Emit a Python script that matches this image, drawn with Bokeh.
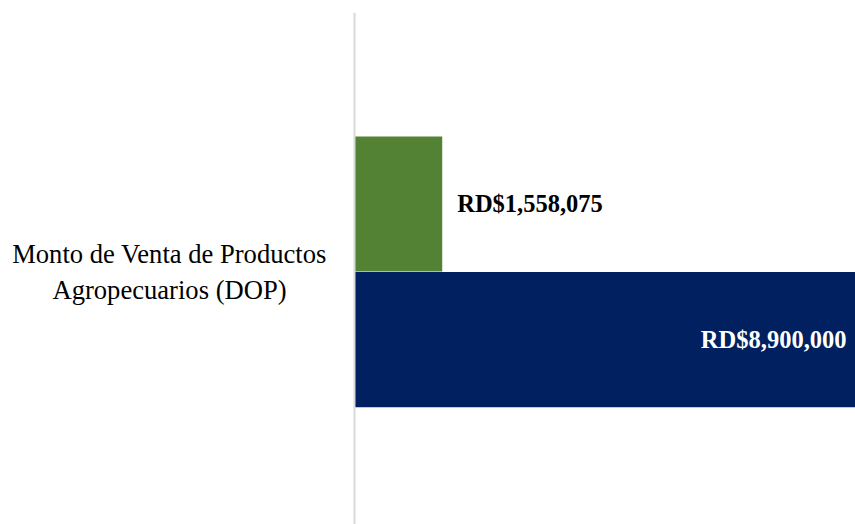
from bokeh.plotting import figure
from bokeh.models import ColumnDataSource, Range1d, FactorRange, Span
from bokeh.transform import dodge
from bokeh.core.properties import value
from bokeh.embed import file_html
from bokeh.resources import INLINE

# ---- data ----
categories = ["Monto de Venta de Productos\nAgropecuarios (DOP)"]
green_values = [1558075]
navy_values = [8900000]
x_max = 8900000

green_labels = ["RD${:,}".format(v) for v in green_values]
navy_labels = ["RD${:,}".format(v) for v in navy_values]

src_g = ColumnDataSource(dict(cat=categories, val=green_values, lab=green_labels))
src_n = ColumnDataSource(dict(cat=categories, val=navy_values, lab=navy_labels))
src_c = ColumnDataSource(dict(cat=categories, zero=[0] * len(categories), lab=categories))

SERIF = "Liberation Serif"

W, H = 855, 524
LEFT_PX = 354          # width of the category-label area
FRAME_W = W - LEFT_PX

p = figure(width=W, height=H, output_backend="svg", toolbar_location=None,
           y_range=FactorRange(*categories),
           x_range=Range1d(-x_max * LEFT_PX / FRAME_W, x_max),
           x_axis_location=None, y_axis_location=None,
           min_border_left=0, min_border_right=0,
           min_border_top=12, min_border_bottom=0)
p.outline_line_color = None
p.grid.visible = False
p.background_fill_color = "white"
p.border_fill_color = "white"

bar_h = 0.264
g_off = 0.126
n_off = -0.139

p.hbar(y=dodge("cat", g_off, range=p.y_range), left=0, right="val", height=bar_h,
       source=src_g, fill_color="#548235", line_color=None)
p.hbar(y=dodge("cat", n_off, range=p.y_range), left=0, right="val", height=bar_h,
       source=src_n, fill_color="#002060", line_color=None)

# value axis baseline (category axis line)
p.add_layout(Span(location=0, dimension="height", line_color="#d9d9d9", line_width=2))

p.text(x="val", y=dodge("cat", g_off, range=p.y_range), text="lab", source=src_g,
       x_offset=15, text_align="left", text_baseline="middle",
       text_font=value(SERIF), text_font_style="bold", text_font_size="24.5px",
       text_color="#000000")
p.text(x="val", y=dodge("cat", n_off, range=p.y_range), text="lab", source=src_n,
       x_offset=-9, text_align="right", text_baseline="middle",
       text_font=value(SERIF), text_font_style="bold", text_font_size="24.5px",
       text_color="#ffffff")

# category label
p.text(x="zero", y=dodge("cat", -0.006, range=p.y_range), text="lab", source=src_c,
       x_offset=-185, text_align="center", text_baseline="middle",
       text_font=value(SERIF), text_font_size="26.6px", text_color="#000000")

open("out.html", "w").write(file_html(p, INLINE))
